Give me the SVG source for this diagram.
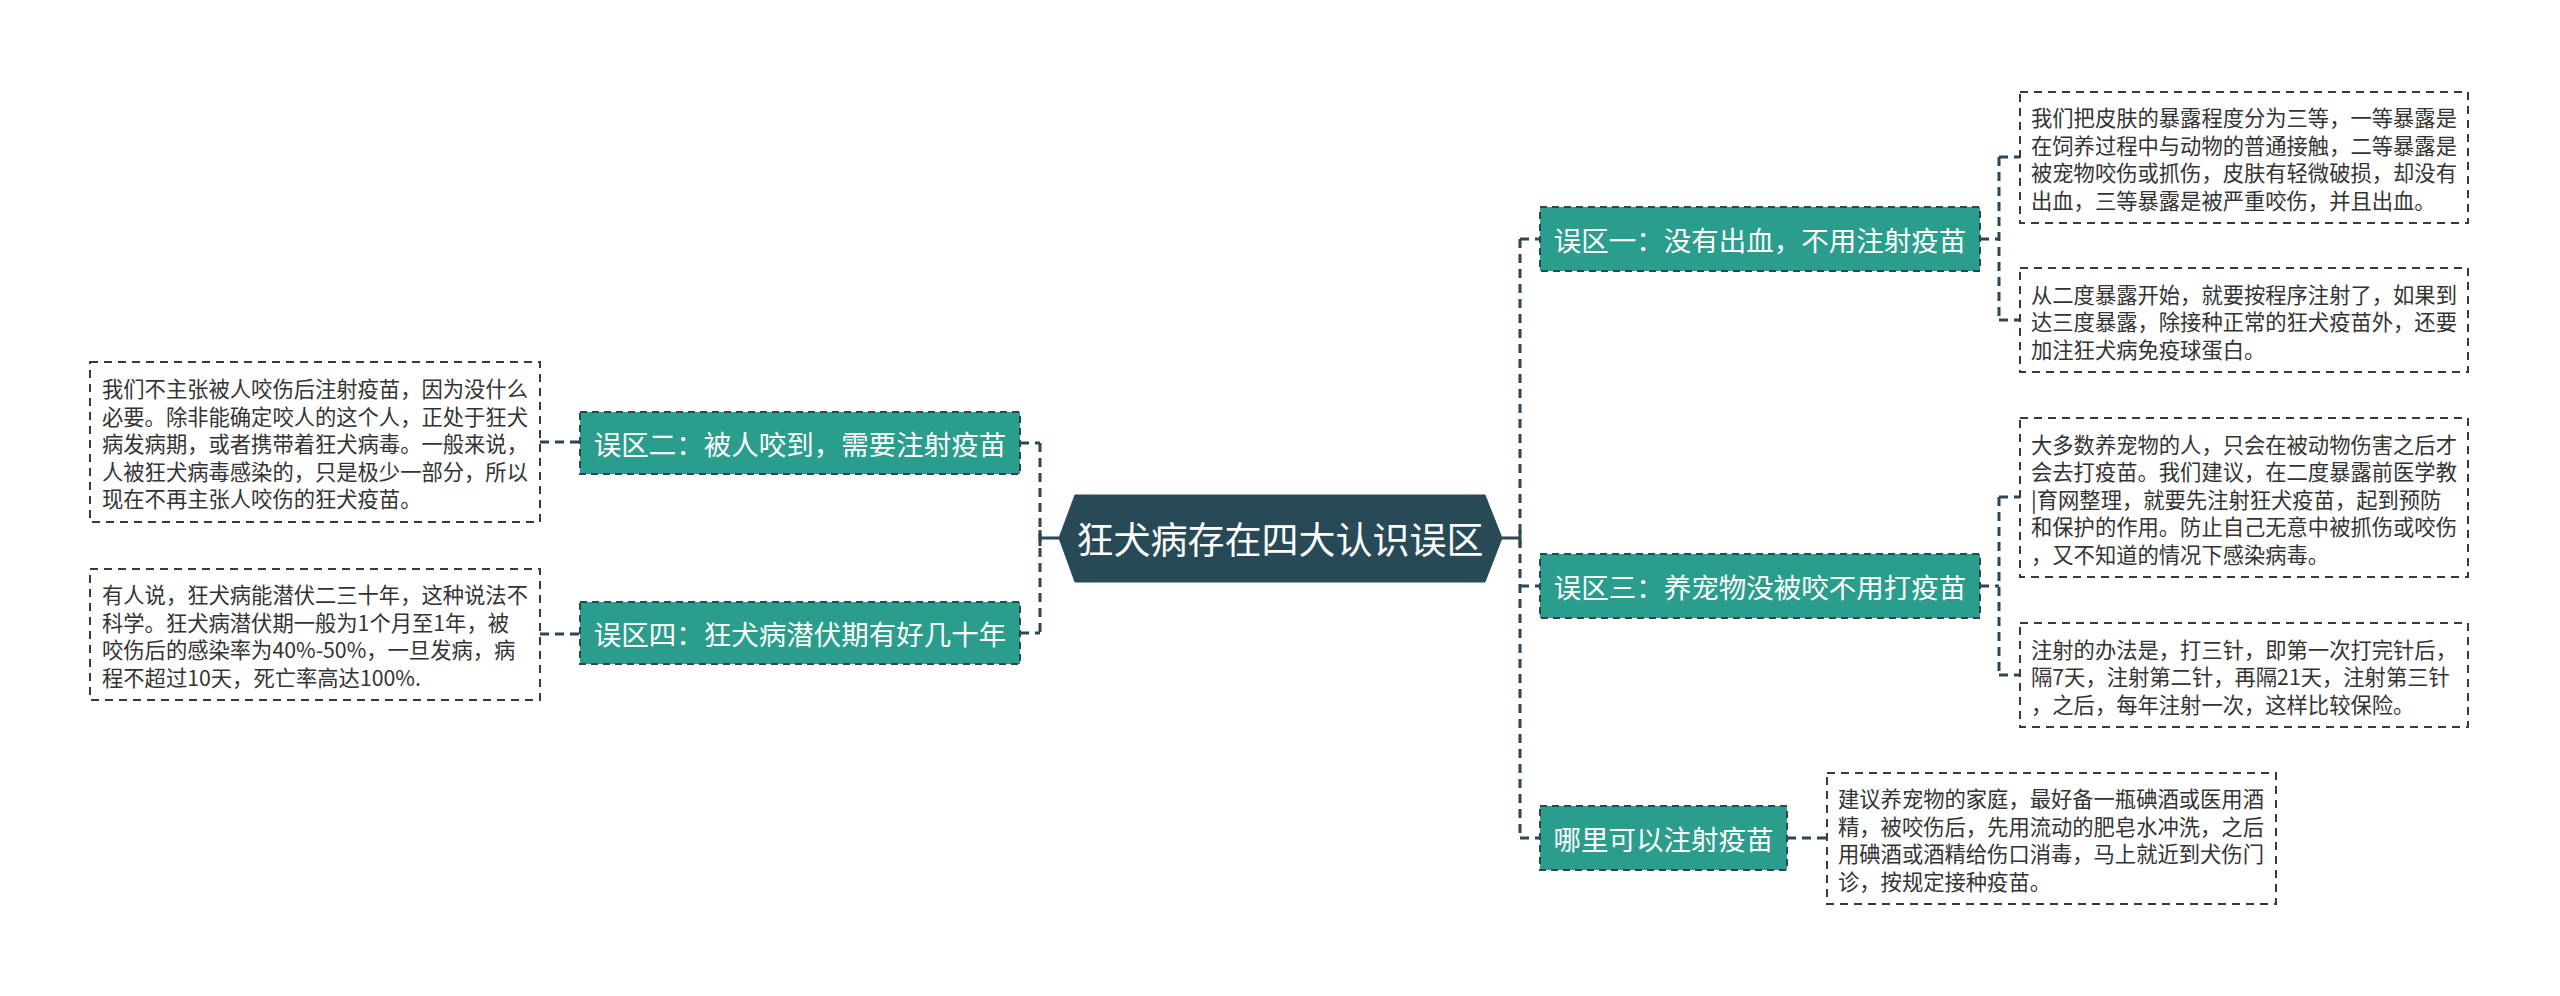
<svg xmlns="http://www.w3.org/2000/svg" width="2560" height="996" viewBox="0 0 2560 996">
<style>
.bg{fill:#ffffff}
.conn{fill:none;stroke:#2c4655;stroke-width:3;stroke-dasharray:9 6}
.solid{fill:none;stroke:#2c4655;stroke-width:3}
.root{fill:#284a57;stroke:#284a57;stroke-width:1}
.rootTxt{font-family:"Noto Sans CJK SC","Noto Sans",sans-serif;font-size:37px;fill:#ffffff}
.node{fill:#2a9d8d;stroke:#2c4655;stroke-width:2;stroke-dasharray:7 5}
.nodeTxt{font-family:"Noto Sans CJK SC","Noto Sans",sans-serif;font-size:27.5px;fill:#ffffff}
.leaf{fill:#ffffff;stroke:#3a3a3a;stroke-width:2;stroke-dasharray:8 6}
.leafTxt{font-family:"Noto Sans CJK SC","Noto Sans",sans-serif;font-size:21.3px;fill:#333333}
</style>
<rect class="bg" x="0" y="0" width="2560" height="996"/>

<g id="connectors">
  <path class="solid" d="M1059 538 H1040"/>
  <path class="solid" d="M1040 530 V546"/>
  <path class="conn" d="M1040 443 V633"/>
  <path class="conn" d="M1020 443 H1040"/>
  <path class="conn" d="M1020 633 H1040"/>
  <path class="conn" d="M540 442 H580"/>
  <path class="conn" d="M540 634 H580"/>
  <path class="solid" d="M1502 538 H1520"/>
  <path class="solid" d="M1520 530 V546"/>
  <path class="conn" d="M1520 239 V838"/>
  <path class="conn" d="M1520 239 H1540"/>
  <path class="conn" d="M1520 586 H1540"/>
  <path class="conn" d="M1520 838 H1540"/>
  <path class="conn" d="M1980 239 H1999"/>
  <path class="conn" d="M1999 157 V320"/>
  <path class="conn" d="M1999 157 H2020"/>
  <path class="conn" d="M1999 320 H2020"/>
  <path class="conn" d="M1980 586 H1999"/>
  <path class="conn" d="M1999 497 V675"/>
  <path class="conn" d="M1999 497 H2020"/>
  <path class="conn" d="M1999 675 H2020"/>
  <path class="conn" d="M1787 838 H1827"/>
</g>

<g id="root">
  <polygon class="root" points="1059,538 1075,495 1485,495 1502,538 1485,582 1075,582"/>
  <text class="rootTxt" x="1280" y="538" text-anchor="middle" dominant-baseline="central">狂犬病存在四大认识误区</text>
</g>

<g id="node1">
  <rect class="node" x="1540" y="207" width="440" height="64"/>
  <text class="nodeTxt" x="1760" y="239" text-anchor="middle" dominant-baseline="central">误区一：没有出血，不用注射疫苗</text>
</g>
<g id="node2">
  <rect class="node" x="580" y="412" width="440" height="62"/>
  <text class="nodeTxt" x="800" y="443" text-anchor="middle" dominant-baseline="central">误区二：被人咬到，需要注射疫苗</text>
</g>
<g id="node3">
  <rect class="node" x="1540" y="554" width="440" height="64"/>
  <text class="nodeTxt" x="1760" y="586" text-anchor="middle" dominant-baseline="central">误区三：养宠物没被咬不用打疫苗</text>
</g>
<g id="node4">
  <rect class="node" x="580" y="602" width="440" height="62"/>
  <text class="nodeTxt" x="800" y="633" text-anchor="middle" dominant-baseline="central">误区四：狂犬病潜伏期有好几十年</text>
</g>
<g id="node5">
  <rect class="node" x="1540" y="806" width="247" height="64"/>
  <text class="nodeTxt" x="1663.5" y="838" text-anchor="middle" dominant-baseline="central">哪里可以注射疫苗</text>
</g>

<g id="leaf1a">
  <rect class="leaf" x="2020" y="92" width="448" height="131"/>
  <text class="leafTxt" dominant-baseline="central">
    <tspan x="2031" y="116">我们把皮肤的暴露程度分为三等，一等暴露是</tspan>
    <tspan x="2031" y="143.5">在饲养过程中与动物的普通接触，二等暴露是</tspan>
    <tspan x="2031" y="171">被宠物咬伤或抓伤，皮肤有轻微破损，却没有</tspan>
    <tspan x="2031" y="198.5">出血，三等暴露是被严重咬伤，并且出血。</tspan>
  </text>
</g>
<g id="leaf1b">
  <rect class="leaf" x="2020" y="268" width="448" height="104"/>
  <text class="leafTxt" dominant-baseline="central">
    <tspan x="2031" y="292.5">从二度暴露开始，就要按程序注射了，如果到</tspan>
    <tspan x="2031" y="320">达三度暴露，除接种正常的狂犬疫苗外，还要</tspan>
    <tspan x="2031" y="347.5">加注狂犬病免疫球蛋白。</tspan>
  </text>
</g>
<g id="leaf2">
  <rect class="leaf" x="90" y="362" width="450" height="160"/>
  <text class="leafTxt" dominant-baseline="central">
    <tspan x="102" y="387">我们不主张被人咬伤后注射疫苗，因为没什么</tspan>
    <tspan x="102" y="414.5">必要。除非能确定咬人的这个人，正处于狂犬</tspan>
    <tspan x="102" y="442">病发病期，或者携带着狂犬病毒。一般来说，</tspan>
    <tspan x="102" y="469.5">人被狂犬病毒感染的，只是极少一部分，所以</tspan>
    <tspan x="102" y="497">现在不再主张人咬伤的狂犬疫苗。</tspan>
  </text>
</g>
<g id="leaf3a">
  <rect class="leaf" x="2020" y="418" width="448" height="159"/>
  <text class="leafTxt" dominant-baseline="central">
    <tspan x="2031" y="442.5">大多数养宠物的人，只会在被动物伤害之后才</tspan>
    <tspan x="2031" y="470">会去打疫苗。我们建议，在二度暴露前医学教</tspan>
    <tspan x="2031" y="497.5">|育网整理，就要先注射狂犬疫苗，起到预防</tspan>
    <tspan x="2031" y="525">和保护的作用。防止自己无意中被抓伤或咬伤</tspan>
    <tspan x="2031" y="552.5">，又不知道的情况下感染病毒。</tspan>
  </text>
</g>
<g id="leaf3b">
  <rect class="leaf" x="2020" y="623" width="448" height="104"/>
  <text class="leafTxt" dominant-baseline="central">
    <tspan x="2031" y="647.5">注射的办法是，打三针，即第一次打完针后，</tspan>
    <tspan x="2031" y="675">隔7天，注射第二针，再隔21天，注射第三针</tspan>
    <tspan x="2031" y="702.5">，之后，每年注射一次，这样比较保险。</tspan>
  </text>
</g>
<g id="leaf4">
  <rect class="leaf" x="90" y="569" width="450" height="131"/>
  <text class="leafTxt" dominant-baseline="central">
    <tspan x="102" y="593">有人说，狂犬病能潜伏二三十年，这种说法不</tspan>
    <tspan x="102" y="620.5">科学。狂犬病潜伏期一般为1个月至1年，被</tspan>
    <tspan x="102" y="648">咬伤后的感染率为40%-50%，一旦发病，病</tspan>
    <tspan x="102" y="675.5">程不超过10天，死亡率高达100%.</tspan>
  </text>
</g>
<g id="leaf5">
  <rect class="leaf" x="1827" y="773" width="449" height="131"/>
  <text class="leafTxt" dominant-baseline="central">
    <tspan x="1838" y="797">建议养宠物的家庭，最好备一瓶碘酒或医用酒</tspan>
    <tspan x="1838" y="824.5">精，被咬伤后，先用流动的肥皂水冲洗，之后</tspan>
    <tspan x="1838" y="852">用碘酒或酒精给伤口消毒，马上就近到犬伤门</tspan>
    <tspan x="1838" y="879.5">诊，按规定接种疫苗。</tspan>
  </text>
</g>
</svg>
